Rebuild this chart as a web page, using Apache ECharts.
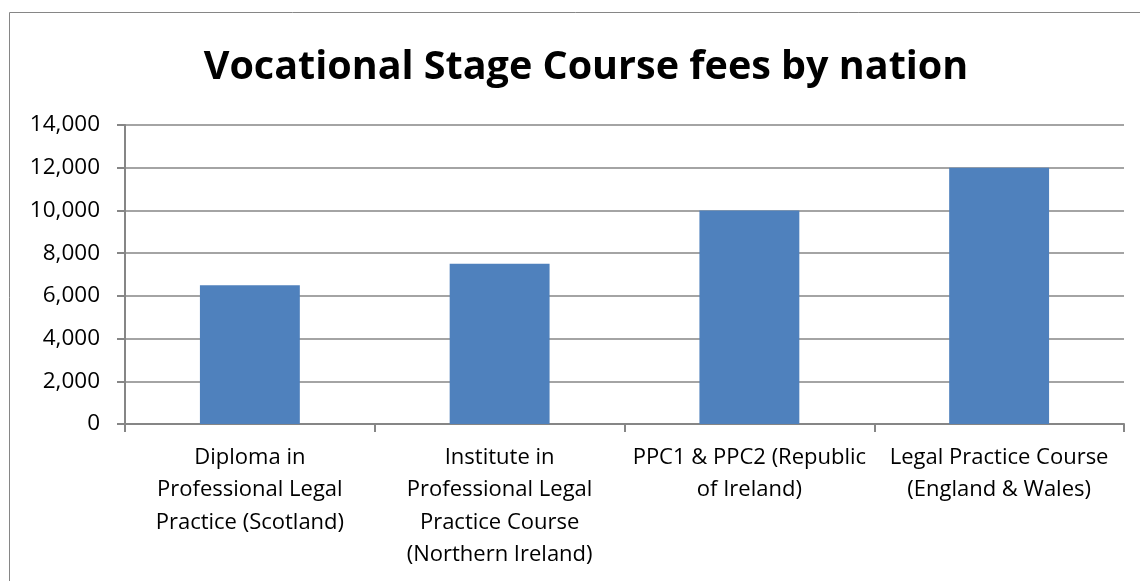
<!DOCTYPE html>
<html><head><meta charset="utf-8">
<script src="https://cdn.jsdelivr.net/npm/echarts@6/dist/echarts.min.js"></script>
<style>html,body{margin:0;padding:0;background:#fff}#c{width:1140px;height:581px}</style>
</head><body><div id="c"></div>
<script>
const titleText = 'Vocational Stage Course fees by nation';
const categories = [
  'Diploma in\nProfessional Legal\nPractice (Scotland)',
  'Institute in\nProfessional Legal\nPractice Course\n(Northern Ireland)',
  'PPC1 & PPC2 (Republic\nof Ireland)',
  'Legal Practice Course\n(England & Wales)'
];
const fees = [6500, 7500, 10000, 12000];
const yMin = 0, yMax = 14000, yStep = 2000;

const font = '"Open Sans", "Liberation Sans", sans-serif';
const chart = echarts.init(document.getElementById('c'), null, {renderer: 'canvas'});
chart.setOption({
  animation: false,
  graphic: [{type: 'rect', shape: {x: 9.5, y: 12.5, width: 1140, height: 600},
    style: {fill: 'none', stroke: '#868686', lineWidth: 1}, z: -1}],
  title: {text: titleText, left: 581, textAlign: 'center', top: 43,
    textStyle: {fontFamily: font, fontWeight: 'bold', fontSize: 39.5, color: '#000'}},
  grid: {left: 125, right: 16, top: 125, bottom: 157, containLabel: false},
  xAxis: {type: 'category', data: categories,
    axisLine: {lineStyle: {color: '#868686', width: 2}},
    axisTick: {show: true, length: 8, alignWithLabel: false, lineStyle: {color: '#868686', width: 2}},
    axisLabel: {interval: 0, margin: 17, fontFamily: font, fontSize: 22, lineHeight: 32.5, color: '#000', align: 'center'},
    splitLine: {show: false}},
  yAxis: {type: 'value', min: yMin, max: yMax, interval: yStep,
    axisLine: {show: true, lineStyle: {color: '#868686', width: 2}},
    axisTick: {show: true, length: 8, lineStyle: {color: '#868686', width: 2}},
    axisLabel: {margin: 25, fontFamily: font, fontSize: 22.5, color: '#000',
      formatter: v => v.toLocaleString('en-US')},
    splitLine: {lineStyle: {color: '#868686', width: 1.5}}},
  series: [{type: 'bar', data: fees, barWidth: '40%', itemStyle: {color: '#4F81BD'}}]
});
</script></body></html>
